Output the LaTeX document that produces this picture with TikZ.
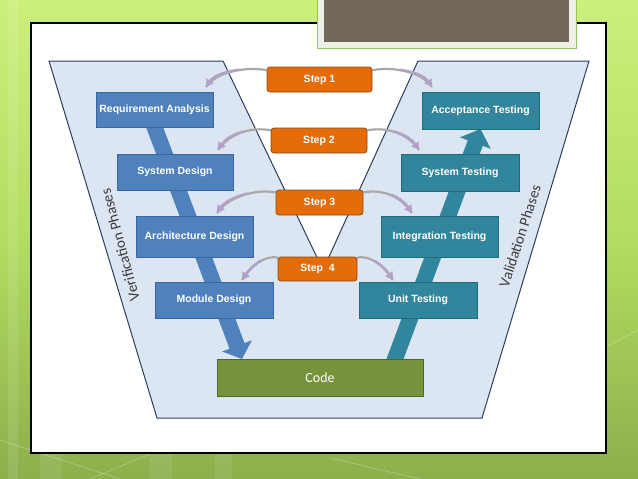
\documentclass[tikz,border=0pt]{standalone}
\usepackage{fontspec}
\setmainfont{Liberation Sans}
\newfontfamily\carlito{Carlito}
\usetikzlibrary{arrows.meta,calc}
\definecolor{bgtop}{HTML}{CDEF7C}
\definecolor{bgmid}{HTML}{B2DD60}
\definecolor{bgbot}{HTML}{8DAF4C}
\definecolor{trapfill}{HTML}{DCE6F2}
\definecolor{trapline}{HTML}{2B3F5C}
\definecolor{vblue}{HTML}{4F81BD}
\definecolor{vblueline}{HTML}{3B669C}
\definecolor{vteal}{HTML}{31859C}
\definecolor{vtealline}{HTML}{23697C}
\definecolor{vorange}{HTML}{E46C0A}
\definecolor{vorangeline}{HTML}{8C4A12}
\definecolor{vgreen}{HTML}{77933C}
\definecolor{vgreenline}{HTML}{4E6A2A}
\definecolor{lav}{HTML}{B3A2C7}
\definecolor{arcgray}{HTML}{A8A8A8}
\definecolor{capbox}{HTML}{71685B}
\definecolor{capframe}{HTML}{EEF2E6}
\definecolor{capedge}{HTML}{9CC35A}
\definecolor{lbl}{HTML}{3A3A3A}
\pgfdeclarelayer{back}
\pgfdeclarelayer{band}
\pgfsetlayers{back,band,main}
\begin{document}
\begin{tikzpicture}[x=1pt,y=-1pt,
  every node/.style={inner sep=0pt, outer sep=0pt},
  vbox/.style={draw=vblueline, fill=vblue, line width=0.8pt, text=white,
    font=\fontsize{10.5}{12}\selectfont\bfseries, minimum width=117pt, minimum height=36pt},
  tbox/.style={vbox, draw=vtealline, fill=vteal},
  stepbox/.style={draw=vorangeline, fill=vorange, rounded corners=3pt, line width=0.8pt,
    text=white, font=\fontsize{10.5}{12}\selectfont\bfseries, minimum height=25pt},
  codebox/.style={draw=vgreenline, fill=vgreen, line width=0.8pt, text=white,
    font=\carlito\fontsize{14}{16}\selectfont, minimum width=206pt, minimum height=37pt},
  phase/.style={font=\carlito\fontsize{15}{18}\selectfont, text=lbl},
  arcbase/.style={arcgray, line width=2.2pt},
  arctip/.style={lav, line width=2.4pt, dash pattern=on 300pt off #1, dash phase=300pt,
    -{Triangle[width=8.5pt,length=7.5pt]}},
  band/.style={line width=16pt, shorten <=-6pt}
]
\useasboundingbox (0,0) rectangle (638,479);
\begin{pgfonlayer}{back}
  \shade[top color=bgtop, bottom color=bgbot, middle color=bgmid] (0,0) rectangle (638,479);
  \fill[white, opacity=0.10] (8,0) rectangle (18,479);
  \fill[white, opacity=0.08] (40,453) rectangle (62,479);
  \fill[white, opacity=0.08] (150,453) rectangle (172,479);
  \fill[white, opacity=0.08] (215,453) rectangle (232,479);
  \draw[white, opacity=0.35, line width=0.5pt] (0,440) -- (120,479);
  \draw[white, opacity=0.35, line width=0.5pt] (90,479) -- (160,450);
  \draw[white, opacity=0.35, line width=0.5pt] (330,458) -- (420,479);
  \draw[white, opacity=0.35, line width=0.5pt] (600,350) -- (638,330);
  \draw[black, fill=white, line width=1.2pt] (31,23) rectangle (606,453);
  \draw[capedge, fill=capframe, line width=0.8pt] (317,-5) rectangle (576,48);
  \fill[capbox] (324,-5) rectangle (569,42);
  \draw[trapline, fill=trapfill, line width=1pt, line join=miter]
    (49,61) -- (223,61) -- (323,270) -- (418,61) -- (589,61) -- (482,418) -- (157,418) -- cycle;
\end{pgfonlayer}

\node[vbox, minimum height=35pt] (ra) at (154.5,109.5) {Requirement Analysis};
\node[vbox, minimum width=116pt] (sd) at (175,172) {System Design};
\node[vbox, minimum height=41pt] (ad) at (194.5,236.5) {Architecture Design};
\node[vbox, minimum width=118pt] (md) at (214,300) {Module Design};
\node[tbox, minimum height=37pt] (at) at (480.5,110.5) {Acceptance Testing};
\node[tbox, minimum width=118pt, minimum height=37pt] (st) at (460,172.5) {System Testing};
\node[tbox, minimum height=41pt] (it) at (439.5,236.5) {Integration Testing};
\node[tbox, minimum width=118pt] (ut) at (418,300) {Unit Testing};
\node[codebox] (code) at (320,377.5) {Code};

\node[stepbox, minimum width=105pt] (s1) at (319.5,79.5) {Step 1};
\node[stepbox, minimum width=96pt] (s2) at (319,140.5) {Step 2};
\node[stepbox, minimum width=87pt] (s3) at (319.5,202.5) {Step 3};
\node[stepbox, minimum width=79pt, minimum height=24pt] (s4) at (317.5,269) {Step\ \ 4};

\node[phase, rotate=105] (vlab) at (120,245) {Verification Phases};
\node[phase, rotate=72] (alab) at (520,236) {Validation Phases};

\coordinate (lend) at ($(code.north west)+(25,0)$);
\coordinate (rstart) at ($(code.north east)+(-28,0)$);
\begin{pgfonlayer}{band}
  \draw[band, vblue, -{Triangle[width=31pt,length=14pt]}] (ra.south) -- (lend);
  \draw[band, vteal, -{Triangle[width=32pt,length=15pt]}] (rstart) -- (at.south);
\end{pgfonlayer}

\coordinate (t1l) at ($(ra.north east)+(-7,-5)$);
\coordinate (t2l) at ($(sd.north east)+(-15,-4)$);
\coordinate (t3l) at ($(ad.north east)+(-36,-3)$);
\coordinate (t4l) at ($(md.north east)+(-31,-2)$);
\coordinate (t1r) at ($(at.north west)+(10,-5)$);
\coordinate (t2r) at ($(st.north west)+(18,-4)$);
\coordinate (t3r) at ($(it.north west)+(31,-3)$);
\coordinate (t4r) at ($(ut.north west)+(34,-2)$);

\foreach \s/\t/\o in {s1.170/t1l/28pt, s2.168/t2l/28pt, s3.167/t3l/28pt} {
  \draw[arcbase] (\s) .. controls +(-22,-4) and +(10,-15) .. (\t);
  \draw[arctip=\o] (\s) .. controls +(-22,-4) and +(10,-15) .. (\t);
}
\foreach \s/\t/\o in {s1.10/t1r/28pt, s2.12/t2r/28pt, s3.13/t3r/28pt} {
  \draw[arcbase] (\s) .. controls +(22,-4) and +(-10,-15) .. (\t);
  \draw[arctip=\o] (\s) .. controls +(22,-4) and +(-10,-15) .. (\t);
}
\draw[arcbase] (s4.164) .. controls +(-15,-3) and +(8,-12) .. (t4l);
\draw[arctip=18pt] (s4.164) .. controls +(-15,-3) and +(8,-12) .. (t4l);
\draw[arcbase] (s4.16) .. controls +(15,-3) and +(-8,-12) .. (t4r);
\draw[arctip=18pt] (s4.16) .. controls +(15,-3) and +(-8,-12) .. (t4r);
\end{tikzpicture}
\end{document}
